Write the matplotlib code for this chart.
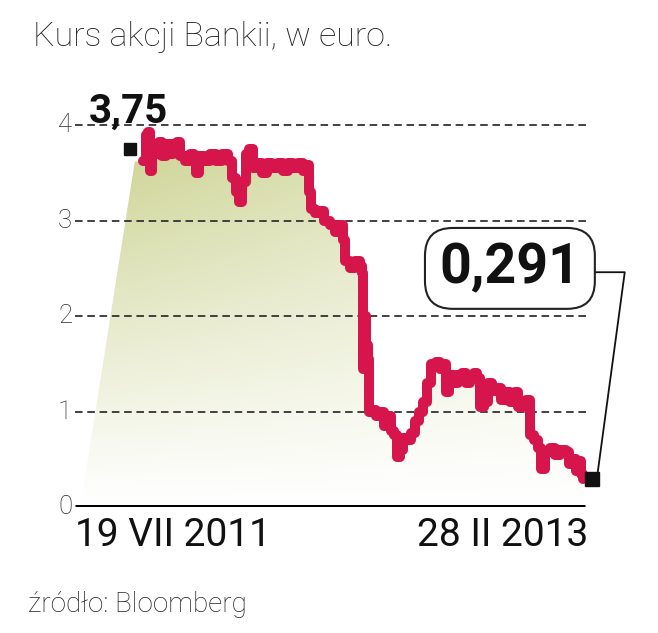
import numpy as np
import matplotlib
matplotlib.use("Agg")
import matplotlib.pyplot as plt
from matplotlib import font_manager
from matplotlib.patches import Polygon

# days counted from 19 VII 2011 (last one is 28 II 2013)
days = [0, 4, 7, 9, 12, 17, 21, 25, 31, 36, 40, 46, 50, 56, 63, 68, 71, 75,
        82, 90, 98, 106, 114, 119, 125, 129, 133, 138, 142, 147, 153, 160,
        166, 173, 181, 188, 194, 201, 208, 215, 220, 223, 225, 231, 237, 243,
        251, 257, 264, 268, 271, 278, 284, 291, 294, 295, 296, 299, 302, 303,
        307, 312, 318, 323, 329, 333, 337, 341, 345, 349, 354, 359, 365, 370,
        375, 381, 386, 393, 398, 402, 406, 410, 417, 422, 428, 433, 438, 444,
        448, 452, 457, 463, 468, 475, 480, 485, 492, 499, 503, 508, 514, 519,
        524, 530, 534, 539, 546, 552, 559, 567, 571, 577, 581, 585, 587, 590]
price = [3.62, 3.90, 3.93, 3.52, 3.80, 3.70, 3.82, 3.68, 3.80, 3.70, 3.80,
         3.82, 3.68, 3.62, 3.70, 3.62, 3.50, 3.68, 3.62, 3.70, 3.62, 3.70,
         3.62, 3.45, 3.30, 3.20, 3.40, 3.70, 3.75, 3.55, 3.60, 3.50, 3.60,
         3.55, 3.60, 3.52, 3.60, 3.55, 3.60, 3.52, 3.58, 3.30, 3.12, 3.08,
         3.10, 3.00, 2.95, 2.88, 2.95, 2.80, 2.58, 2.50, 2.58, 2.52, 2.45,
         1.45, 2.00, 1.70, 1.55, 1.00, 1.02, 0.95, 1.00, 0.85, 0.95, 0.80,
         0.75, 0.52, 0.60, 0.72, 0.70, 0.78, 0.90, 1.00, 1.10, 1.30, 1.50,
         1.52, 1.45, 1.50, 1.20, 1.38, 1.30, 1.38, 1.40, 1.30, 1.38, 1.40,
         1.35, 1.05, 1.10, 1.30, 1.22, 1.25, 1.12, 1.20, 1.10, 1.20, 1.05,
         1.10, 1.12, 0.75, 0.70, 0.62, 0.40, 0.58, 0.62, 0.55, 0.60, 0.58,
         0.45, 0.50, 0.38, 0.48, 0.35, 0.29]

yticks = [0, 1, 2, 3, 4]
date_labels = ["19 VII 2011", "28 II 2013"]
first_val, last_val = 3.75, 0.291
first_lbl, last_lbl = "3,75", "0,291"

RED = "#d5154b"
GREEN = np.array([204, 211, 146]) / 255.0


def pick(*names):
    have = {f.name for f in font_manager.fontManager.ttflist}
    for n in names:
        if n in have:
            return n
    return "DejaVu Sans"


NARROW = pick("Liberation Sans Narrow", "Roboto", "DejaVu Sans")
plt.rcParams["font.family"] = [NARROW, "DejaVu Sans"]

fig = plt.figure(figsize=(6.58, 6.33), dpi=100)
ax = fig.add_axes([0.114, 0.199, 0.7796, 0.6635])
ax.set_xlim(-91.2, 596.7)
ax.set_ylim(0, 4.4)
ax.axis("off")

# gradient fill under the line (step path + decorative slanted left edge)
sx = np.repeat(days, 2)[1:]
sy = np.repeat(price, 2)[:-1]
verts = [(-84, 0), (-11, price[0])] + list(zip(sx, sy)) + [(days[-1], 0)]
poly = Polygon(verts, closed=True, facecolor="none", edgecolor="none")
ax.add_patch(poly)
h, w = 200, 200
yy, xx = np.mgrid[0:h, 0:w]
vert = (1 - yy / (h - 1)) ** 1.1       # top row = 1
horiz = 1 - 0.55 * (xx / (w - 1))
inten = np.clip(vert * horiz * 1.08, 0, 1)
img = np.ones((h, w, 3)) * (1 - inten[..., None]) + GREEN * inten[..., None]
im = ax.imshow(img, extent=(-84, days[-1], 0, 3.95), aspect="auto",
               origin="upper", zorder=1, interpolation="bilinear")
im.set_clip_path(poly)

for t in yticks[1:]:
    ax.plot([-91.2, 596.7], [t, t], color="#333333", lw=1.3,
            dashes=(4.2, 2.6), zorder=2)
ax.plot([-91.2, 593], [0, 0], color="black", lw=3.6, solid_capstyle="butt",
        zorder=3)

ax.plot(days, price, color=RED, lw=7.2, drawstyle="steps-post",
        solid_joinstyle="round", solid_capstyle="round", zorder=4)

for t in yticks:
    ax.text(-95, t, str(t), ha="right", va="center", fontsize=18.5,
            fontweight="light", color="#2a2a2a")

# start marker + label
ax.plot([-17], [first_val], marker="s", ms=9, color="#111111", zorder=5,
        clip_on=False)
ax.text(-20, 4.03, first_lbl, ha="center", va="baseline", fontsize=29,
        fontweight="bold", color="#111111", zorder=5)

# end marker, callout box and connector
ax.plot([602], [last_val], marker="s", ms=10, color="#111111", zorder=5,
        clip_on=False)
ax.plot([603.5, 646, 609], [2.46, 2.46, 0.32], color="#111111", lw=1.3,
        zorder=5, clip_on=False)
ax.text(492, 2.50, last_lbl, ha="center", va="center", fontsize=40,
        fontweight="bold", color="#111111", zorder=6,
        bbox=dict(boxstyle="round,pad=0.26,rounding_size=0.5",
                  fc="white", ec="#222222", lw=1.5))

ax.text(-91.2, -0.1, date_labels[0], ha="left", va="top", fontsize=28,
        color="#111111")
ax.text(596.7, -0.1, date_labels[1], ha="right", va="top", fontsize=28,
        color="#111111")

fig.text(0.050, 0.942, "Kurs akcji Bankii, w euro.", ha="left", va="center",
         fontsize=24.5, fontweight="light", color="#222222")
fig.text(0.043, 0.045, "źródło: Bloomberg", ha="left", va="center",
         fontsize=20, fontweight="light", color="#222222")

fig.savefig("out.png", dpi=100, facecolor="white")
